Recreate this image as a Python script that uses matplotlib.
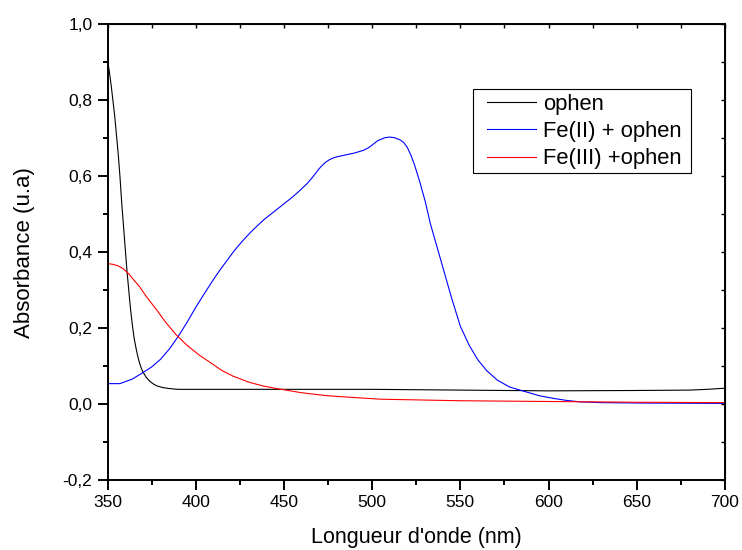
"""UV-vis absorbance spectra of ophen and its Fe(II)/Fe(III) complexes."""

import matplotlib
matplotlib.use("Agg")
import matplotlib.pyplot as plt
from matplotlib.patches import Rectangle
from matplotlib.ticker import FuncFormatter, MultipleLocator

plt.rcParams["font.family"] = ["Liberation Sans", "DejaVu Sans"]

# ophen alone
wl_ophen = [350, 351, 352, 353, 354, 355, 356, 357, 358, 359, 360, 361, 362, 363,
            364, 365, 366, 367, 368, 369, 370, 372, 374, 376, 378, 381, 385, 390,
            400, 450, 500, 550, 600, 650, 680, 690, 700]
abs_ophen = [0.905, 0.875, 0.84, 0.80, 0.76, 0.71, 0.66, 0.60, 0.53, 0.47, 0.41,
             0.35, 0.30, 0.25, 0.21, 0.175, 0.15, 0.128, 0.11, 0.096, 0.085, 0.070,
             0.060, 0.053, 0.048, 0.044, 0.041, 0.039, 0.039, 0.039, 0.039, 0.037,
             0.035, 0.036, 0.037, 0.039, 0.042]

# Fe(II) + ophen
wl_fe2 = [350, 357, 364, 370, 375, 380, 385, 390, 395, 400, 405, 410, 414, 418, 422,
          427, 431, 435, 439, 442, 445, 448, 451, 454, 458, 463, 466, 468, 470, 472,
          474, 476, 478, 480, 485, 490, 495, 498, 500, 503, 507, 510, 513, 516, 518,
          520, 522, 524, 527, 530, 533, 537, 541, 545, 550, 555, 560, 565, 571, 578,
          586, 595, 603, 610, 618, 630, 650, 700]
abs_fe2 = [0.054, 0.054, 0.066, 0.083, 0.098, 0.118, 0.145, 0.178, 0.215, 0.255,
           0.292, 0.328, 0.355, 0.38, 0.405, 0.432, 0.452, 0.47, 0.487, 0.498, 0.509,
           0.52, 0.531, 0.542, 0.558, 0.58, 0.596, 0.608, 0.620, 0.630, 0.638, 0.644,
           0.648, 0.651, 0.656, 0.661, 0.668, 0.675, 0.682, 0.693, 0.701, 0.703,
           0.701, 0.695, 0.688, 0.675, 0.655, 0.63, 0.585, 0.535, 0.475, 0.41,
           0.345, 0.28, 0.205, 0.155, 0.116, 0.088, 0.063, 0.045, 0.034, 0.022,
           0.015, 0.010, 0.006, 0.004, 0.003, 0.002]

# Fe(III) + ophen
wl_fe3 = [350, 353, 356, 359, 362, 365, 368, 372, 378, 383, 389, 395, 402, 410, 415,
          421, 430, 438, 446, 460, 475, 488, 505, 550, 600, 650, 700]
abs_fe3 = [0.370, 0.368, 0.364, 0.356, 0.343, 0.326, 0.31, 0.283, 0.247, 0.215,
           0.182, 0.155, 0.129, 0.104, 0.088, 0.074, 0.058, 0.048, 0.041, 0.030,
           0.022, 0.018, 0.013, 0.009, 0.007, 0.005, 0.004]

series_labels = ["ophen", "Fe(II) + ophen", "Fe(III) +ophen"]

W, H = 742, 550
fig = plt.figure(figsize=(W / 100, H / 100), dpi=100)
ax = fig.add_axes([0.145, 0.127, 0.832, 0.829])

ax.plot(wl_ophen, abs_ophen, color="black", lw=0.8, label=series_labels[0])
ax.plot(wl_fe2, abs_fe2, color="#0000ff", lw=0.8, label=series_labels[1])
ax.plot(wl_fe3, abs_fe3, color="#ff0000", lw=0.8, label=series_labels[2])

ax.set_xlim(350, 700)
ax.set_ylim(-0.2, 1.0)
ax.xaxis.set_major_locator(MultipleLocator(50))
ax.xaxis.set_minor_locator(MultipleLocator(25))
ax.yaxis.set_major_locator(MultipleLocator(0.2))
ax.yaxis.set_minor_locator(MultipleLocator(0.1))
ax.yaxis.set_major_formatter(FuncFormatter(lambda v, p: f"{v:.1f}".replace(".", ",").replace("-0,0", "0,0")))

for s in ax.spines.values():
    s.set_linewidth(1.4)

ax.tick_params(which="both", direction="out", width=1.4, labelsize=12.5, top=False, right=False)
ax.tick_params(which="major", length=7.5)
ax.tick_params(which="minor", length=3.6)

# inward ticks on top and right, as on the Origin plot
sec_x = ax.secondary_xaxis("top")
sec_x.xaxis.set_major_locator(MultipleLocator(25))
sec_x.tick_params(direction="in", length=3, width=1.0, labeltop=False)
sec_y = ax.secondary_yaxis("right")
sec_y.yaxis.set_major_locator(MultipleLocator(0.1))
sec_y.tick_params(direction="in", length=3, width=1.0, labelright=False)

ax.set_xlabel("Longueur d'onde (nm)", fontsize=15.5, labelpad=12)
ax.set_ylabel("Absorbance (u.a)", fontsize=16, labelpad=20)

# legend entries without frame; the Origin-style box is drawn separately
ax.legend(loc="upper left", bbox_to_anchor=(487 / W, 1 - 94 / H),
          bbox_transform=fig.transFigure, borderaxespad=0, borderpad=0,
          fontsize=15.8, frameon=False,
          handlelength=2.25, labelspacing=0.28, handletextpad=0.32)
fig.patches.append(Rectangle((473 / W, 1 - 173 / H), 218 / W, 84 / H,
                             transform=fig.transFigure, fill=False,
                             edgecolor="black", lw=0.8, zorder=5))

fig.savefig("out.png", dpi=100)
